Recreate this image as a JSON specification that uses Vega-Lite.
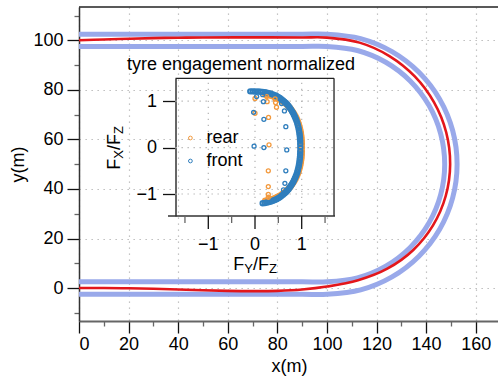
{
"$schema": "https://vega.github.io/schema/vega-lite/v6.json",
"width": 419, "height": 314,
"autosize": {"type": "none"},
"padding": {"left": 79, "top": 7, "right": 0, "bottom": 60},
"config": {
 "font": "Liberation Sans",
 "view": {"stroke": null},
 "axis": {"labelFont": "Liberation Sans", "labelFontSize": 18, "labelColor": "#000", "titleFont": "Liberation Sans", "titleFontSize": 18, "titleFontWeight": "normal", "titleColor": "#000"},
 "legend": {"labelFont": "Liberation Sans"}
},
"datasets": {
 "track": [
  {"b":"outer","o":1,"x":0,"y":102.5},{"b":"outer","o":2,"x":50,"y":102.5},{"b":"outer","o":3,"x":90,"y":102.5},{"b":"outer","o":4,"x":100,"y":102.5},
  {"b":"outer","o":5,"x":113.59,"y":100.71},{"b":"outer","o":6,"x":126.25,"y":95.47},{"b":"outer","o":7,"x":137.12,"y":87.12},{"b":"outer","o":8,"x":145.47,"y":76.25},
  {"b":"outer","o":9,"x":150.71,"y":63.59},{"b":"outer","o":10,"x":152.5,"y":50},{"b":"outer","o":11,"x":150.71,"y":36.41},{"b":"outer","o":12,"x":145.47,"y":23.75},
  {"b":"outer","o":13,"x":137.12,"y":12.88},{"b":"outer","o":14,"x":126.25,"y":4.53},{"b":"outer","o":15,"x":113.59,"y":-0.71},{"b":"outer","o":16,"x":100,"y":-2.5},
  {"b":"outer","o":17,"x":90,"y":-2.5},{"b":"outer","o":18,"x":50,"y":-2.5},{"b":"outer","o":19,"x":0,"y":-2.5},
  {"b":"inner","o":1,"x":0,"y":97.5},{"b":"inner","o":2,"x":50,"y":97.5},{"b":"inner","o":3,"x":90,"y":97.5},{"b":"inner","o":4,"x":100,"y":97.5},
  {"b":"inner","o":5,"x":112.29,"y":95.88},{"b":"inner","o":6,"x":123.75,"y":91.14},{"b":"inner","o":7,"x":133.59,"y":83.59},{"b":"inner","o":8,"x":141.14,"y":73.75},
  {"b":"inner","o":9,"x":145.88,"y":62.29},{"b":"inner","o":10,"x":147.5,"y":50},{"b":"inner","o":11,"x":145.88,"y":37.71},{"b":"inner","o":12,"x":141.14,"y":26.25},
  {"b":"inner","o":13,"x":133.59,"y":16.41},{"b":"inner","o":14,"x":123.75,"y":8.86},{"b":"inner","o":15,"x":112.29,"y":4.12},{"b":"inner","o":16,"x":100,"y":2.5},
  {"b":"inner","o":17,"x":90,"y":2.5},{"b":"inner","o":18,"x":50,"y":2.5},{"b":"inner","o":19,"x":0,"y":2.5}
 ],
 "racing": [
  {"o":1,"x":0,"y":100.0},{"o":2,"x":10,"y":100.35},{"o":3,"x":20,"y":100.65},{"o":4,"x":30,"y":100.9},{"o":5,"x":40,"y":101.05},
  {"o":6,"x":50,"y":101.15},{"o":7,"x":70,"y":101.2},{"o":8,"x":90,"y":101.15},{"o":9,"x":100,"y":101.1},{"o":10,"x":113.15,"y":99.07},
  {"o":11,"x":125.2,"y":93.65},{"o":12,"x":135.43,"y":85.43},{"o":13,"x":143.21,"y":74.95},{"o":14,"x":148.1,"y":62.89},{"o":15,"x":149.7,"y":50},
  {"o":16,"x":147.91,"y":37.16},{"o":17,"x":142.78,"y":25.3},{"o":18,"x":134.72,"y":15.28},{"o":19,"x":124.35,"y":7.82},{"o":20,"x":112.55,"y":3.15},
  {"o":21,"x":100,"y":0.6},{"o":22,"x":90,"y":-0.6},{"o":23,"x":80,"y":-1.15},{"o":24,"x":70,"y":-1.25},{"o":25,"x":60,"y":-1.15},
  {"o":26,"x":50,"y":-0.9},{"o":27,"x":40,"y":-0.6},{"o":28,"x":30,"y":-0.3},{"o":29,"x":20,"y":-0.1},{"o":30,"x":10,"y":0.0},{"o":31,"x":0,"y":0.0}
 ],
 "grid": [{"v":-1},{"v":0},{"v":1}],
 "minor": [{"v":-1.5},{"v":-0.5},{"v":0.5},{"v":1.5}],
 "band": [
  {"tyre":"rear","fy":0.219,"fx":-1.146},{"tyre":"rear","fy":0.265,"fx":-1.138},{"tyre":"rear","fy":0.310,"fx":-1.127},{"tyre":"rear","fy":0.353,"fx":-1.115},
  {"tyre":"rear","fy":0.395,"fx":-1.100},{"tyre":"rear","fy":0.435,"fx":-1.084},{"tyre":"rear","fy":0.475,"fx":-1.066},{"tyre":"rear","fy":0.513,"fx":-1.047},
  {"tyre":"rear","fy":0.550,"fx":-1.025},{"tyre":"rear","fy":0.585,"fx":-1.002},{"tyre":"rear","fy":0.619,"fx":-0.977},{"tyre":"rear","fy":0.652,"fx":-0.950},
  {"tyre":"rear","fy":0.684,"fx":-0.921},{"tyre":"rear","fy":0.714,"fx":-0.891},{"tyre":"rear","fy":0.743,"fx":-0.859},{"tyre":"rear","fy":0.770,"fx":-0.826},
  {"tyre":"rear","fy":0.796,"fx":-0.791},{"tyre":"rear","fy":0.821,"fx":-0.754},{"tyre":"rear","fy":0.844,"fx":-0.716},{"tyre":"rear","fy":0.866,"fx":-0.677},
  {"tyre":"rear","fy":0.886,"fx":-0.636},{"tyre":"rear","fy":0.905,"fx":-0.593},{"tyre":"rear","fy":0.922,"fx":-0.549},{"tyre":"rear","fy":0.937,"fx":-0.504},
  {"tyre":"rear","fy":0.951,"fx":-0.457},{"tyre":"rear","fy":0.963,"fx":-0.409},{"tyre":"rear","fy":0.974,"fx":-0.359},{"tyre":"rear","fy":0.983,"fx":-0.307},
  {"tyre":"rear","fy":0.991,"fx":-0.253},{"tyre":"rear","fy":0.997,"fx":-0.198},{"tyre":"rear","fy":1.001,"fx":-0.139},{"tyre":"rear","fy":1.003,"fx":-0.076},
  {"tyre":"rear","fy":1.004,"fx":0},
  {"tyre":"rear","fy":1.003,"fx":0.076},{"tyre":"rear","fy":1.001,"fx":0.139},{"tyre":"rear","fy":0.997,"fx":0.198},{"tyre":"rear","fy":0.991,"fx":0.253},
  {"tyre":"rear","fy":0.983,"fx":0.307},{"tyre":"rear","fy":0.974,"fx":0.359},{"tyre":"rear","fy":0.963,"fx":0.409},{"tyre":"rear","fy":0.951,"fx":0.457},
  {"tyre":"rear","fy":0.937,"fx":0.504},{"tyre":"rear","fy":0.922,"fx":0.549},{"tyre":"rear","fy":0.905,"fx":0.593},{"tyre":"rear","fy":0.886,"fx":0.636},
  {"tyre":"rear","fy":0.866,"fx":0.677},{"tyre":"rear","fy":0.844,"fx":0.716},{"tyre":"rear","fy":0.821,"fx":0.754},{"tyre":"rear","fy":0.796,"fx":0.791},
  {"tyre":"rear","fy":0.770,"fx":0.826},{"tyre":"rear","fy":0.743,"fx":0.859},{"tyre":"rear","fy":0.714,"fx":0.891},{"tyre":"rear","fy":0.684,"fx":0.921},
  {"tyre":"rear","fy":0.652,"fx":0.950},{"tyre":"rear","fy":0.619,"fx":0.977},{"tyre":"rear","fy":0.585,"fx":1.002},{"tyre":"rear","fy":0.550,"fx":1.025},
  {"tyre":"rear","fy":0.513,"fx":1.047},{"tyre":"rear","fy":0.475,"fx":1.066},{"tyre":"rear","fy":0.435,"fx":1.084},{"tyre":"rear","fy":0.395,"fx":1.100},
  {"tyre":"rear","fy":0.353,"fx":1.115},{"tyre":"rear","fy":0.310,"fx":1.127},{"tyre":"rear","fy":0.265,"fx":1.138},{"tyre":"rear","fy":0.219,"fx":1.146},
  {"tyre":"front","fy":0.165,"fx":-1.201},{"tyre":"front","fy":0.212,"fx":-1.194},{"tyre":"front","fy":0.256,"fx":-1.185},{"tyre":"front","fy":0.299,"fx":-1.174},
  {"tyre":"front","fy":0.341,"fx":-1.161},{"tyre":"front","fy":0.382,"fx":-1.146},{"tyre":"front","fy":0.421,"fx":-1.130},{"tyre":"front","fy":0.459,"fx":-1.111},
  {"tyre":"front","fy":0.495,"fx":-1.090},{"tyre":"front","fy":0.531,"fx":-1.068},{"tyre":"front","fy":0.565,"fx":-1.043},{"tyre":"front","fy":0.598,"fx":-1.017},
  {"tyre":"front","fy":0.630,"fx":-0.989},{"tyre":"front","fy":0.661,"fx":-0.960},{"tyre":"front","fy":0.690,"fx":-0.928},{"tyre":"front","fy":0.718,"fx":-0.895},
  {"tyre":"front","fy":0.744,"fx":-0.860},{"tyre":"front","fy":0.769,"fx":-0.824},{"tyre":"front","fy":0.793,"fx":-0.786},{"tyre":"front","fy":0.816,"fx":-0.746},
  {"tyre":"front","fy":0.836,"fx":-0.705},{"tyre":"front","fy":0.856,"fx":-0.662},{"tyre":"front","fy":0.874,"fx":-0.618},{"tyre":"front","fy":0.891,"fx":-0.572},
  {"tyre":"front","fy":0.906,"fx":-0.525},{"tyre":"front","fy":0.919,"fx":-0.476},{"tyre":"front","fy":0.931,"fx":-0.426},{"tyre":"front","fy":0.941,"fx":-0.374},
  {"tyre":"front","fy":0.950,"fx":-0.320},{"tyre":"front","fy":0.957,"fx":-0.264},{"tyre":"front","fy":0.963,"fx":-0.206},{"tyre":"front","fy":0.967,"fx":-0.145},
  {"tyre":"front","fy":0.969,"fx":-0.079},{"tyre":"front","fy":0.970,"fx":0},
  {"tyre":"front","fy":0.969,"fx":0.079},{"tyre":"front","fy":0.967,"fx":0.145},{"tyre":"front","fy":0.963,"fx":0.206},{"tyre":"front","fy":0.957,"fx":0.264},
  {"tyre":"front","fy":0.950,"fx":0.320},{"tyre":"front","fy":0.941,"fx":0.374},{"tyre":"front","fy":0.931,"fx":0.426},{"tyre":"front","fy":0.919,"fx":0.476},
  {"tyre":"front","fy":0.906,"fx":0.525},{"tyre":"front","fy":0.891,"fx":0.572},{"tyre":"front","fy":0.874,"fx":0.618},{"tyre":"front","fy":0.856,"fx":0.662},
  {"tyre":"front","fy":0.836,"fx":0.705},{"tyre":"front","fy":0.816,"fx":0.746},{"tyre":"front","fy":0.793,"fx":0.786},{"tyre":"front","fy":0.769,"fx":0.824},
  {"tyre":"front","fy":0.744,"fx":0.860},{"tyre":"front","fy":0.718,"fx":0.895},{"tyre":"front","fy":0.690,"fx":0.928},{"tyre":"front","fy":0.661,"fx":0.960},
  {"tyre":"front","fy":0.630,"fx":0.989},{"tyre":"front","fy":0.598,"fx":1.017},{"tyre":"front","fy":0.565,"fx":1.043},{"tyre":"front","fy":0.531,"fx":1.068},
  {"tyre":"front","fy":0.495,"fx":1.090},{"tyre":"front","fy":0.459,"fx":1.111},{"tyre":"front","fy":0.421,"fx":1.130},{"tyre":"front","fy":0.382,"fx":1.146},
  {"tyre":"front","fy":0.341,"fx":1.161},{"tyre":"front","fy":0.299,"fx":1.174},{"tyre":"front","fy":0.256,"fx":1.185},{"tyre":"front","fy":0.212,"fx":1.194},
  {"tyre":"front","fy":0.165,"fx":1.201},{"tyre":"front","fy":0.116,"fx":1.206},{"tyre":"front","fy":0.064,"fx":1.209},{"tyre":"front","fy":0.0,"fx":1.210},
  {"tyre":"front","fy":-0.05,"fx":1.212},{"tyre":"front","fy":-0.10,"fx":1.212}
 ],
 "sparse": [
  {"tyre":"rear","fy":0.0,"fx":1.06},{"tyre":"rear","fy":0.25,"fx":1.10},{"tyre":"rear","fy":0.26,"fx":0.99},{"tyre":"rear","fy":0.43,"fx":1.05},
  {"tyre":"rear","fy":0.44,"fx":0.97},{"tyre":"rear","fy":0.46,"fx":0.87},{"tyre":"rear","fy":0.0,"fx":0.74},{"tyre":"rear","fy":0.29,"fx":0.65},
  {"tyre":"rear","fy":0.30,"fx":0.06},{"tyre":"rear","fy":0.285,"fx":-0.50},{"tyre":"rear","fy":0.285,"fx":-0.84},{"tyre":"rear","fy":0.285,"fx":-1.01},
  {"tyre":"rear","fy":0.285,"fx":-1.07},
  {"tyre":"front","fy":0.035,"fx":1.10},{"tyre":"front","fy":0.165,"fx":1.14},{"tyre":"front","fy":0.18,"fx":0.99},{"tyre":"front","fy":0.57,"fx":0.95},
  {"tyre":"front","fy":0.63,"fx":0.79},{"tyre":"front","fy":0.66,"fx":0.45},{"tyre":"front","fy":-0.03,"fx":0.76},{"tyre":"front","fy":0.19,"fx":0.61},
  {"tyre":"front","fy":-0.02,"fx":0.03},{"tyre":"front","fy":0.19,"fx":0.0},{"tyre":"front","fy":0.68,"fx":-0.05},{"tyre":"front","fy":0.66,"fx":-0.50},
  {"tyre":"front","fy":0.64,"fx":-0.77},{"tyre":"front","fy":0.61,"fx":-0.91}
 ]
},
"layer": [
  {"data": {"name": "track"},
   "mark": {"type": "line", "color": "#99a9ea", "strokeWidth": 5, "interpolate": "catmull-rom"},
   "encoding": {
    "x": {"field": "x", "type": "quantitative",
     "scale": {"domain": [0, 169], "nice": false, "zero": false},
     "axis": {"orient": "bottom", "values": [0,10,20,30,40,50,60,70,80,90,100,110,120,130,140,150,160], "format": "d",
      "labelExpr": "datum.value % 20 === 0 ? datum.label : ''",
      "tickSize": 12,
      "tickDash": {"condition": {"test": "datum.value % 20 !== 0", "value": [5, 20]}, "value": [20, 0]},
      "tickColor": {"condition": {"test": "datum.value % 20 !== 0", "value": "#666"}, "value": "#111"},
      "tickWidth": 1.3, "domainColor": "#666", "domainWidth": 2, "labelPadding": 2,
      "grid": true, "gridColor": "#b3b3b3", "gridDash": [1.3, 4.7], "gridWidth": 1.2,
      "gridOpacity": {"condition": {"test": "datum.value % 20 !== 0", "value": 0}, "value": 1},
      "title": "x(m)", "titleX": 210, "titleY": 50, "titleBaseline": "alphabetic", "titleAlign": "center"}},
    "y": {"field": "y", "type": "quantitative",
     "scale": {"domain": [-13.3, 113.45], "nice": false, "zero": false},
     "axis": {"orient": "left", "values": [-10,0,10,20,30,40,50,60,70,80,90,100,110], "format": "d",
      "labelExpr": "datum.value % 20 === 0 ? datum.label : ''",
      "tickSize": 12,
      "tickDash": {"condition": {"test": "datum.value % 20 !== 0", "value": [5, 20]}, "value": [20, 0]},
      "tickColor": {"condition": {"test": "datum.value % 20 !== 0", "value": "#666"}, "value": "#111"},
      "tickWidth": 1.3, "domainColor": "#333", "domainWidth": 1.5, "labelPadding": 4,
      "grid": true, "gridColor": "#b3b3b3", "gridDash": [1.3, 4.7], "gridWidth": 1.2,
      "gridOpacity": {"condition": {"test": "datum.value % 20 !== 0", "value": 0}, "value": 1},
      "title": "y(m)", "titleX": -56, "titleY": 157, "titleBaseline": "alphabetic", "titleAlign": "center", "titleAngle": 270}},
    "detail": {"field": "b", "type": "nominal"},
    "order": {"field": "o", "type": "quantitative"}
   }},
  {"data": {"name": "racing"},
   "mark": {"type": "line", "color": "#e3161b", "strokeWidth": 2.6, "interpolate": "catmull-rom"},
   "encoding": {
    "x": {"field": "x", "type": "quantitative", "scale": {"domain": [0, 169], "nice": false, "zero": false}, "axis": null},
    "y": {"field": "y", "type": "quantitative", "scale": {"domain": [-13.3, 113.45], "nice": false, "zero": false}, "axis": null},
    "order": {"field": "o", "type": "quantitative"}
   }},
  {"data": {"values": [{}]},
   "mark": {"type": "rule", "color": "#222", "strokeWidth": 1.5},
   "encoding": {"y": {"datum": 113.45, "type": "quantitative", "scale": {"domain": [-13.3, 113.45], "nice": false, "zero": false}, "axis": null}}},
  {"data": {"name": "grid"},
   "mark": {"type": "rule", "color": "#b3b3b3", "strokeDash": [1.3, 4.7], "strokeWidth": 1.2},
   "encoding": {
    "x": {"field": "v", "type": "quantitative", "scale": {"domain": [-1.863, 1.713], "range": [89, 256], "nice": false, "zero": false}, "axis": null},
    "y": {"datum": -1.474, "type": "quantitative", "scale": {"domain": [-1.474, 1.4935], "range": [209, 71.3], "nice": false, "zero": false}, "axis": null},
    "y2": {"datum": 1.4935}
   }},
  {"data": {"name": "grid"},
   "mark": {"type": "rule", "color": "#b3b3b3", "strokeDash": [1.3, 4.7], "strokeWidth": 1.2},
   "encoding": {
    "y": {"field": "v", "type": "quantitative", "scale": {"domain": [-1.474, 1.4935], "range": [209, 71.3], "nice": false, "zero": false}, "axis": null},
    "x": {"datum": -1.702, "type": "quantitative", "scale": {"domain": [-1.863, 1.713], "range": [89, 256], "nice": false, "zero": false}, "axis": null},
    "x2": {"datum": 1.692}
   }},
  {"data": {"values": [{}]},
   "mark": {"type": "rule", "color": "#222", "strokeWidth": 1.3},
   "encoding": {
    "y": {"datum": 1.4935, "type": "quantitative", "scale": {"domain": [-1.474, 1.4935], "range": [209, 71.3], "nice": false, "zero": false}, "axis": null},
    "x": {"datum": -1.702, "type": "quantitative", "scale": {"domain": [-1.863, 1.713], "range": [89, 256], "nice": false, "zero": false}, "axis": null},
    "x2": {"datum": 1.692}
   }},
  {"data": {"values": [{}]},
   "mark": {"type": "rule", "color": "#222", "strokeWidth": 1.3},
   "encoding": {
    "x": {"datum": 1.692, "type": "quantitative", "scale": {"domain": [-1.863, 1.713], "range": [89, 256], "nice": false, "zero": false}, "axis": null},
    "y": {"datum": -1.474, "type": "quantitative", "scale": {"domain": [-1.474, 1.4935], "range": [209, 71.3], "nice": false, "zero": false}, "axis": null},
    "y2": {"datum": 1.4935}
   }},
  {"data": {"values": [{}]},
   "mark": {"type": "rule", "color": "#333", "strokeWidth": 1.6},
   "encoding": {
    "y": {"datum": -1.474, "type": "quantitative", "scale": {"domain": [-1.474, 1.4935], "range": [209, 71.3], "nice": false, "zero": false}, "axis": null},
    "x": {"datum": -1.863, "type": "quantitative", "scale": {"domain": [-1.863, 1.713], "range": [89, 256], "nice": false, "zero": false}, "axis": null},
    "x2": {"datum": 1.713}
   }},
  {"data": {"name": "grid"},
   "mark": {"type": "rule", "color": "#111", "strokeWidth": 1.3},
   "encoding": {
    "x": {"field": "v", "type": "quantitative", "scale": {"domain": [-1.863, 1.713], "range": [89, 256], "nice": false, "zero": false}, "axis": null},
    "y": {"datum": -1.474, "type": "quantitative", "scale": {"domain": [-1.474, 1.4935], "range": [209, 71.3], "nice": false, "zero": false}, "axis": null},
    "y2": {"datum": -1.754}
   }},
  {"data": {"name": "minor"},
   "mark": {"type": "rule", "color": "#666", "strokeWidth": 1.3},
   "encoding": {
    "x": {"field": "v", "type": "quantitative", "scale": {"domain": [-1.863, 1.713], "range": [89, 256], "nice": false, "zero": false}, "axis": null},
    "y": {"datum": -1.474, "type": "quantitative", "scale": {"domain": [-1.474, 1.4935], "range": [209, 71.3], "nice": false, "zero": false}, "axis": null},
    "y2": {"datum": -1.625}
   }},
  {"data": {"name": "grid"},
   "mark": {"type": "text", "fontSize": 18, "align": "center", "baseline": "alphabetic", "color": "#000"},
   "encoding": {
    "x": {"field": "v", "type": "quantitative", "scale": {"domain": [-1.863, 1.713], "range": [89, 256], "nice": false, "zero": false}, "axis": null},
    "y": {"datum": -2.198, "type": "quantitative", "scale": {"domain": [-1.474, 1.4935], "range": [209, 71.3], "nice": false, "zero": false}, "axis": null},
    "text": {"field": "v", "type": "quantitative", "format": "d"}
   }},
  {"data": {"name": "band"},
   "mark": {"type": "point", "shape": "circle", "filled": false, "size": 20, "strokeWidth": 2, "opacity": 1},
   "encoding": {
    "x": {"field": "fy", "type": "quantitative", "scale": {"domain": [-1.863, 1.713], "range": [89, 256], "nice": false, "zero": false}, "axis": null},
    "y": {"field": "fx", "type": "quantitative", "scale": {"domain": [-1.474, 1.4935], "range": [209, 71.3], "nice": false, "zero": false},
     "axis": {"orient": "left", "offset": -96.5, "values": [-1.5,-1,-0.5,0,0.5,1,1.5], "format": "d",
      "labelExpr": "datum.value % 1 === 0 ? datum.label : ''",
      "tickSize": 13,
      "tickDash": {"condition": {"test": "datum.value % 1 !== 0", "value": [7, 20]}, "value": [20, 0]},
      "tickColor": {"condition": {"test": "datum.value % 1 !== 0", "value": "#666"}, "value": "#111"},
      "tickWidth": 1.3, "domainColor": "#666", "domainWidth": 2, "labelPadding": 6, "grid": false, "title": null}},
    "color": {"field": "tyre", "type": "nominal", "scale": {"domain": ["rear", "front"], "range": ["#f39a3e", "#2f7ebd"]},
     "legend": {"orient": "none", "legendX": 102.4, "legendY": 122, "title": null, "labelFontSize": 18, "labelColor": "#000",
      "symbolSize": 14, "symbolStrokeWidth": 1, "symbolType": "circle", "labelOffset": 7, "rowPadding": 5, "padding": 0}}
   }},
  {"data": {"name": "sparse"},
   "mark": {"type": "point", "shape": "circle", "filled": false, "size": 16, "strokeWidth": 1.3, "opacity": 1},
   "encoding": {
    "x": {"field": "fy", "type": "quantitative", "scale": {"domain": [-1.863, 1.713], "range": [89, 256], "nice": false, "zero": false}, "axis": null},
    "y": {"field": "fx", "type": "quantitative", "scale": {"domain": [-1.474, 1.4935], "range": [209, 71.3], "nice": false, "zero": false}, "axis": null},
    "color": {"field": "tyre", "type": "nominal",
     "scale": {"domain": ["rear", "front"], "range": ["#f39a3e", "#2f7ebd"]},
     "legend": {"orient": "none", "legendX": 102.4, "legendY": 122, "title": null, "labelFontSize": 18, "labelColor": "#000",
      "symbolSize": 14, "symbolStrokeWidth": 1, "symbolType": "circle", "labelOffset": 7, "rowPadding": 5, "padding": 0}}
   }},
  {"data": {"values": [{}]},
   "mark": {"type": "text", "text": "tyre engagement normalized", "fontSize": 18, "align": "center", "baseline": "alphabetic", "color": "#000"},
   "encoding": {"x": {"datum": -0.30, "type": "quantitative", "scale": {"domain": [-1.863, 1.713], "range": [89, 256], "nice": false, "zero": false}, "axis": null}, "y": {"datum": 1.672, "type": "quantitative", "scale": {"domain": [-1.474, 1.4935], "range": [209, 71.3], "nice": false, "zero": false}, "axis": null}}},
  {"data": {"values": [{}]},
   "mark": {"type": "text", "text": "F", "fontSize": 18, "align": "left", "baseline": "alphabetic", "color": "#000"},
   "encoding": {"x": {"datum": -0.467, "type": "quantitative", "scale": {"domain": [-1.863, 1.713], "range": [89, 256], "nice": false, "zero": false}, "axis": null}, "y": {"datum": -2.638, "type": "quantitative", "scale": {"domain": [-1.474, 1.4935], "range": [209, 71.3], "nice": false, "zero": false}, "axis": null}}},
  {"data": {"values": [{}]},
   "mark": {"type": "text", "text": "Y", "fontSize": 13, "align": "left", "baseline": "alphabetic", "color": "#000"},
   "encoding": {"x": {"datum": -0.231, "type": "quantitative", "scale": {"domain": [-1.863, 1.713], "range": [89, 256], "nice": false, "zero": false}, "axis": null}, "y": {"datum": -2.705, "type": "quantitative", "scale": {"domain": [-1.474, 1.4935], "range": [209, 71.3], "nice": false, "zero": false}, "axis": null}}},
  {"data": {"values": [{}]},
   "mark": {"type": "text", "text": "/F", "fontSize": 18, "align": "left", "baseline": "alphabetic", "color": "#000"},
   "encoding": {"x": {"datum": -0.045, "type": "quantitative", "scale": {"domain": [-1.863, 1.713], "range": [89, 256], "nice": false, "zero": false}, "axis": null}, "y": {"datum": -2.638, "type": "quantitative", "scale": {"domain": [-1.474, 1.4935], "range": [209, 71.3], "nice": false, "zero": false}, "axis": null}}},
  {"data": {"values": [{}]},
   "mark": {"type": "text", "text": "Z", "fontSize": 13, "align": "left", "baseline": "alphabetic", "color": "#000"},
   "encoding": {"x": {"datum": 0.298, "type": "quantitative", "scale": {"domain": [-1.863, 1.713], "range": [89, 256], "nice": false, "zero": false}, "axis": null}, "y": {"datum": -2.705, "type": "quantitative", "scale": {"domain": [-1.474, 1.4935], "range": [209, 71.3], "nice": false, "zero": false}, "axis": null}}},
  {"data": {"values": [{}]},
   "mark": {"type": "text", "text": "F", "fontSize": 18, "align": "left", "baseline": "alphabetic", "angle": 270, "color": "#000"},
   "encoding": {"x": {"datum": -2.891, "type": "quantitative", "scale": {"domain": [-1.863, 1.713], "range": [89, 256], "nice": false, "zero": false}, "axis": null}, "y": {"datum": -0.478, "type": "quantitative", "scale": {"domain": [-1.474, 1.4935], "range": [209, 71.3], "nice": false, "zero": false}, "axis": null}}},
  {"data": {"values": [{}]},
   "mark": {"type": "text", "text": "X", "fontSize": 13, "align": "left", "baseline": "alphabetic", "angle": 270, "color": "#000"},
   "encoding": {"x": {"datum": -2.827, "type": "quantitative", "scale": {"domain": [-1.863, 1.713], "range": [89, 256], "nice": false, "zero": false}, "axis": null}, "y": {"datum": -0.241, "type": "quantitative", "scale": {"domain": [-1.474, 1.4935], "range": [209, 71.3], "nice": false, "zero": false}, "axis": null}}},
  {"data": {"values": [{}]},
   "mark": {"type": "text", "text": "/F", "fontSize": 18, "align": "left", "baseline": "alphabetic", "angle": 270, "color": "#000"},
   "encoding": {"x": {"datum": -2.891, "type": "quantitative", "scale": {"domain": [-1.863, 1.713], "range": [89, 256], "nice": false, "zero": false}, "axis": null}, "y": {"datum": -0.054, "type": "quantitative", "scale": {"domain": [-1.474, 1.4935], "range": [209, 71.3], "nice": false, "zero": false}, "axis": null}}},
  {"data": {"values": [{}]},
   "mark": {"type": "text", "text": "Z", "fontSize": 13, "align": "left", "baseline": "alphabetic", "angle": 270, "color": "#000"},
   "encoding": {"x": {"datum": -2.827, "type": "quantitative", "scale": {"domain": [-1.863, 1.713], "range": [89, 256], "nice": false, "zero": false}, "axis": null}, "y": {"datum": 0.291, "type": "quantitative", "scale": {"domain": [-1.474, 1.4935], "range": [209, 71.3], "nice": false, "zero": false}, "axis": null}}}
],
"resolve": {"scale": {"x": "independent", "y": "independent", "color": "shared"}}
}
